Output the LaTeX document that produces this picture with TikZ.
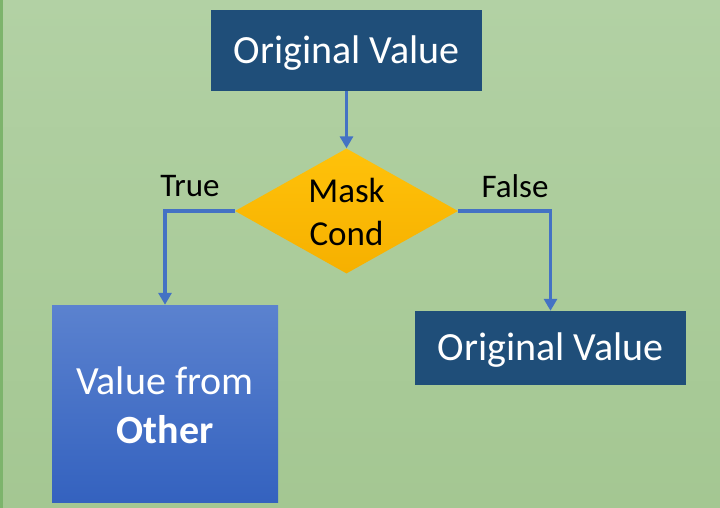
\documentclass[tikz,border=0pt]{standalone}
\usepackage{fontspec}
\setmainfont{Carlito}
\usetikzlibrary{shapes.geometric,arrows.meta}
\definecolor{bgtop}{HTML}{B2D1A4}
\definecolor{bgbot}{HTML}{A4C792}
\definecolor{edgegreen}{HTML}{7DB46C}
\definecolor{darkbox}{HTML}{1F4E79}
\definecolor{bluetop}{HTML}{5B82CF}
\definecolor{bluebot}{HTML}{3462BF}
\definecolor{diatop}{HTML}{FFC20A}
\definecolor{diabot}{HTML}{F6B000}
\definecolor{arrowblue}{HTML}{4472C4}
\tikzset{
  darkrect/.style={rectangle, fill=darkbox, inner sep=0pt},
  bluerect/.style={rectangle, top color=bluetop, bottom color=bluebot, inner sep=0pt},
  whitetext/.style={text=white, inner sep=0pt, align=center,
    font=\fontsize{40}{49}\selectfont},
  condshape/.style={diamond, top color=diatop, bottom color=diabot, inner sep=0pt,
    minimum width=223pt, minimum height=125pt},
  condtext/.style={align=center, text=black, inner sep=0pt, font=\fontsize{35}{43}\selectfont},
  lbl/.style={text=black, inner sep=0pt, font=\fontsize{33}{39}\selectfont},
  flow/.style={draw=arrowblue, line width=3.5pt,
    -{Triangle[length=12pt,width=13pt]}}
}
\begin{document}
\begin{tikzpicture}[x=1pt,y=-1pt]
  \useasboundingbox (0,0) rectangle (720,508);
  \shade[top color=bgtop, bottom color=bgbot] (0,0) rectangle (720,508);
  \fill[edgegreen] (0,0) rectangle (2.5,508);

  \node[darkrect, minimum width=271pt, minimum height=81pt] (top) at (346.5,50.5) {};
  \node[whitetext] (toptext) at (346.5,53) {Original Value};
  \node[condshape] (cond) at (346.5,211) {};
  \node[condtext] (condlbl) at (346.5,212) {Mask\\Cond};
  \node[bluerect, minimum width=226pt, minimum height=197pt] (other) at (165,403.5) {};
  \node[whitetext] (othertext) at (165,405) {Value from\\\textbf{Other}};
  \node[darkrect, minimum width=271pt, minimum height=74pt] (orig) at (550.5,348) {};
  \node[whitetext] (origtext) at (550.5,350.5) {Original Value};

  \node[lbl] (truelbl) at (190,186) {True};
  \node[lbl] (falselbl) at (515,186) {False};

  \draw[flow] (top.south) -- (cond.north);
  \draw[flow] (cond.west) -| (other.north);
  \draw[flow] (cond.east) -| (orig.north);
\end{tikzpicture}
\end{document}
